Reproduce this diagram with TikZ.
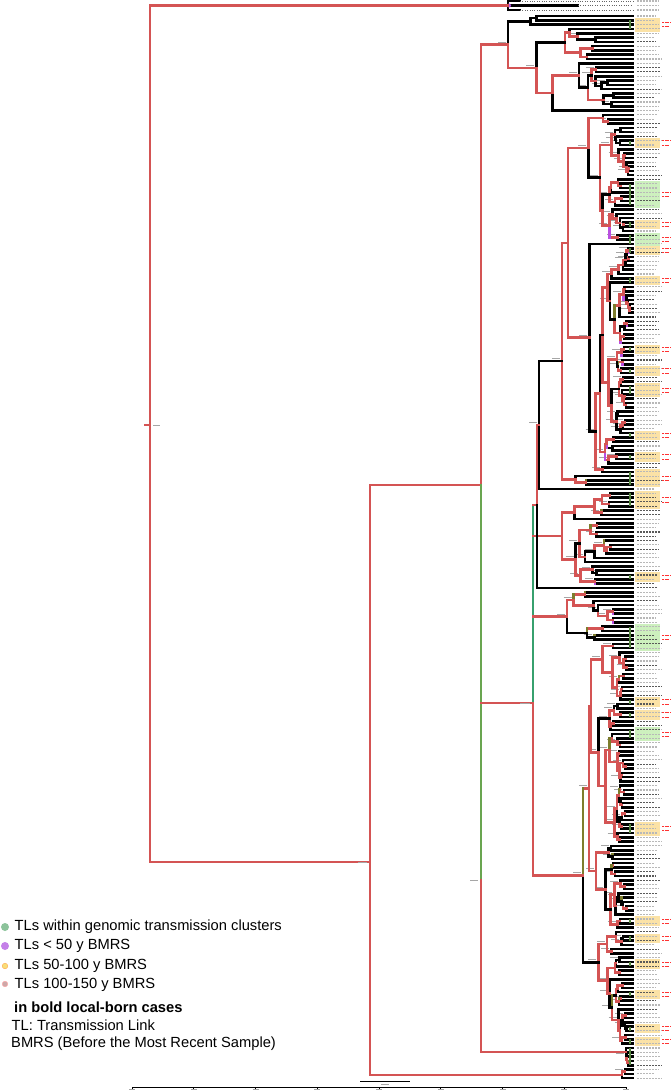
\documentclass[tikz,border=0pt]{standalone}
\usepackage{fontspec}
\setmainfont{Liberation Sans}
\usetikzlibrary{positioning}
\definecolor{brred}{RGB}{212,84,84}
\definecolor{brgreen}{RGB}{105,165,80}
\definecolor{brteal}{RGB}{55,160,110}
\definecolor{brolive}{RGB}{125,125,45}
\definecolor{brblue}{RGB}{70,80,170}
\definecolor{brpurple}{RGB}{185,80,225}
\definecolor{hlyellow}{RGB}{251,226,166}
\definecolor{hlgreen}{RGB}{205,240,190}
\definecolor{dotgreen}{RGB}{140,195,155}
\definecolor{dotpurple}{RGB}{196,128,232}
\definecolor{dotyellow}{RGB}{248,222,120}
\definecolor{dotpink}{RGB}{205,168,168}
\tikzset{
  br/.style={line width=2.6pt,line cap=rect},
  tiplab/.style={line width=1.1pt,black!28,dash pattern=on 2.2pt off 0.8pt},
  boldlab/.style={line width=1.1pt,black!65,dash pattern=on 2.2pt off 0.8pt},
  nodelab/.style={line width=0.8pt,black!35},
  clmark/.style={line width=1.8pt,brgreen!80!black},
  legtxt/.style={anchor=west,inner sep=0pt,font=\fontsize{14.7}{16}\selectfont},
}
% one clade: first tip, last tip, parent x, node x
\newcommand\subtree[4]{%
  \begingroup
  \edef\pa{#1}\edef\pb{#2}\edef\px{#3}\edef\nx{#4}%
  \ifnum\pa=\pb\relax
    \pgfmathsetmacro\yy{16+4.3*\pa}%
    \draw[br,black] (\px,\yy) -- (633,\yy);
    \pgfmathparse{rnd<0.35 ? 1 : 0}%
    \ifdim\pgfmathresult pt>0.5pt
      \draw[boldlab] (637,\yy) -- ++(17+8*rnd,0);
    \else
      \draw[tiplab] (637,\yy) -- ++(17+8*rnd,0);
    \fi
    \xdef\retY{\yy}\gdef\retC{black}%
  \else
    \pgfmathrandominteger{\mm}{\pa}{\pb-1}%
    \edef\mmp{\the\numexpr\mm+1\relax}%
    \pgfmathsetmacro\xa{\nx+(633-\nx)*(0.05+0.30*rnd)}%
    \pgfmathsetmacro\xb{\nx+(633-\nx)*(0.05+0.30*rnd)}%
    \subtree{\pa}{\mm}{\nx}{\xa}%
    \let\ya\retY \let\ca\retC
    \subtree{\mmp}{\pb}{\nx}{\xb}%
    \let\yb\retY \let\cb\retC
    \pgfmathsetmacro\yn{(\ya+\yb)/2}%
    \pgfmathparse{rnd<0.08 ? 1 : 0}%
    \ifdim\pgfmathresult pt>0.5pt \def\ca{brolive}\fi
    \pgfmathparse{rnd<0.05 ? 1 : 0}%
    \ifdim\pgfmathresult pt>0.5pt \def\cb{brpurple}\fi
    \draw[br,color=\ca] (\nx,\ya) -- (\nx,\yn);
    \draw[br,color=\cb] (\nx,\yn) -- (\nx,\yb);
    \pgfmathparse{rnd<0.8 ? 1 : 0}%
    \ifdim\pgfmathresult pt>0.5pt \def\cn{brred}\else\def\cn{black}\fi
    \draw[br,color=\cn] (\px,\yn) -- (\nx,\yn);
    \pgfmathparse{rnd<0.6 ? 1 : 0}%
    \ifdim\pgfmathresult pt>0.5pt \draw[nodelab] (\nx-10,\yn-2.6) -- (\nx-2,\yn-2.6);\fi
    \xdef\retY{\yn}\xdef\retC{\cn}%
    \xdef\lastYa{\ya}\xdef\lastYb{\yb}%
  \fi
  \endgroup}

\begin{document}
\begin{tikzpicture}[x=1pt,y=-1pt]
  \useasboundingbox (0,0) rectangle (672,1090);
  % highlighted tips
  \foreach \a/\b/\c in {1/3/hlyellow,29/30/hlyellow,39/44/hlgreen,48/49/hlyellow,51/53/hlgreen,
      54/55/hlyellow,61/62/hlyellow,77/78/hlyellow,82/83/hlyellow,86/88/hlyellow,97/98/hlyellow,
      102/103/hlyellow,106/109/hlyellow,111/114/hlyellow,130/131/hlyellow,142/147/hlgreen,
      159/160/hlyellow,162/163/hlyellow,166/168/hlgreen,188/190/hlyellow,210/211/hlyellow,
      214/215/hlyellow,220/221/hlyellow,227/228/hlyellow,235/236/hlyellow,238/239/hlyellow} {
    \fill[fill=\c] (635,{16+4.3*\a-2.6}) rectangle (660,{16+4.3*\b+2.6});
    \draw[line width=0.9pt,red!80,dash pattern=on 2pt off 0.7pt] (662,{16+4.3*(\a+\b)/2-2}) -- ++(9,0)
      (662,{16+4.3*(\a+\b)/2+2.2}) -- ++(7,0);
  }
  % clades
  \pgfmathsetseed{12}
  \subtree{0}{22}{508}{508}\let\yA\retY
  \subtree{23}{110}{539}{539}\let\yB\retY
  \subtree{111}{132}{562}{562}\let\yE\retY
  \subtree{134}{145}{567}{567}\let\yC\retY
  \subtree{146}{239}{583}{583}\let\yD\retY
  \draw[br,brolive] (583,\lastYa) -- (583,\yD);
  \subtree{240}{244}{626}{626}\let\yF\retY
  \subtree{245}{247}{622}{622}\let\yG\retY
  \draw[br,black] (537,587.9) -- (633,587.9);
  \draw[boldlab] (637,587.9) -- ++(20,0);
  % outgroup
  \draw[br,black] (508,1) -- (508,10);
  \draw[br,black] (508,1) -- (520,1);
  \draw[br,black] (508,5.5) -- (578,5.5);
  \draw[br,black] (508,10) -- (520,10);
  \draw[dotted,black!60] (520,1) -- (633,1) (578,5.5) -- (633,5.5) (520,10) -- (633,10);
  \foreach \y in {1,5.5,10} { \draw[tiplab] (637,\y) -- ++(22,0); }
  \fill[brpurple] (509,5.5) circle (2);
  % backbone
  \draw[br,brred] (150,5.5) -- (150,862);
  \draw[br,brred] (150,5.5) -- (508,5.5);
  \draw[br,brred] (150,862) -- (370,862);
  \draw[br,brred] (145,425) -- (150,425);
  \draw[nodelab] (153,425) -- (160,425);
  \draw[br,brred] (370,485) -- (370,\yG);
  \draw[br,brred] (370,\yG) -- (622,\yG);
  \draw[br,brred] (370,485) -- (481,485);
  \draw[br,brred] (481,\yA) -- (481,485);
  \draw[br,brgreen] (481,485) -- (481,880);
  \draw[br,brred] (481,880) -- (481,\yF);
  \draw[br,brred] (481,\yA) -- (508,\yA);
  \draw[br,brred] (481,\yF) -- (626,\yF);
  \draw[br,brred] (481,703) -- (533,703);
  \draw[br,brteal] (533,505) -- (533,703);
  \draw[br,brred] (533,703) -- (533,\yD);
  \draw[br,brred] (533,\yE) -- (562,\yE);
  \draw[br,brred] (533,\yC) -- (567,\yC);
  \draw[br,brred] (533,\yD) -- (583,\yD);
  \draw[br,brred] (533,505) -- (537,505);
  \draw[br,brred] (537,\yB) -- (537,505);
  \draw[br,black] (537,505) -- (537,587.9);
  \draw[br,brred] (537,\yB) -- (539,\yB);
  \draw[nodelab] (470,880) -- (478,880) (520,703) -- (530,703) (358,862) -- (367,862);
  % cluster marks
  \foreach \a/\b in {1/3,29/30,39/44,48/49,51/53,54/55,61/62,77/78,82/83,86/88,97/98,102/103,
      106/109,111/114,130/131,142/147,159/160,162/163,166/168,188/190,210/211,214/215,
      220/221,227/228,235/236,238/239,240/244} {
    \draw[clmark] (630,{16+4.3*\a}) -- (630,{16+4.3*\b});
  }
  % time axis
  \draw[line width=0.8pt] (360,1081) -- (410,1081);
  \draw[nodelab] (381,1084) -- (389,1084);
  \draw[line width=0.8pt] (132,1087) -- (626,1087);
  \foreach \i in {0,...,8} {
    \draw[line width=0.6pt] (132+61.75*\i,1087) -- ++(0,2);
    \draw[nodelab,line width=0.6pt] (129+61.75*\i,1089.6) -- ++(6,0);
  }
  \foreach \i in {0,...,7} { \draw[line width=0.5pt] (162.9+61.75*\i,1087) -- ++(0,1.2); }
  % legend
  \fill[dotgreen] (5,927) circle (4);
  \fill[dotpurple] (5,946) circle (4);
  \filldraw[fill=dotyellow,draw=orange!70] (5,966) circle (2.8);
  \filldraw[fill=dotpink,draw=red!35] (5,984) circle (2.8);
  \node[legtxt] (lgclus) at (14.5,927) {TLs within genomic transmission clusters};
  \node[legtxt] (lgfifty) at (14.5,946) {TLs < 50 y BMRS};
  \node[legtxt] (lghund) at (14.5,966) {TLs 50-100 y BMRS};
  \node[legtxt] (lghundfifty) at (14.5,985) {TLs 100-150 y BMRS};
  \node[legtxt,font=\fontsize{14.7}{16}\selectfont\bfseries] (lgbold) at (14,1007) {in bold local-born cases};
  \node[legtxt] (lgtl) at (11.5,1025) {TL: Transmission Link};
  \node[legtxt] (lgbmrs) at (11,1044) {BMRS (Before the Most Recent Sample)};
\end{tikzpicture}
\end{document}
